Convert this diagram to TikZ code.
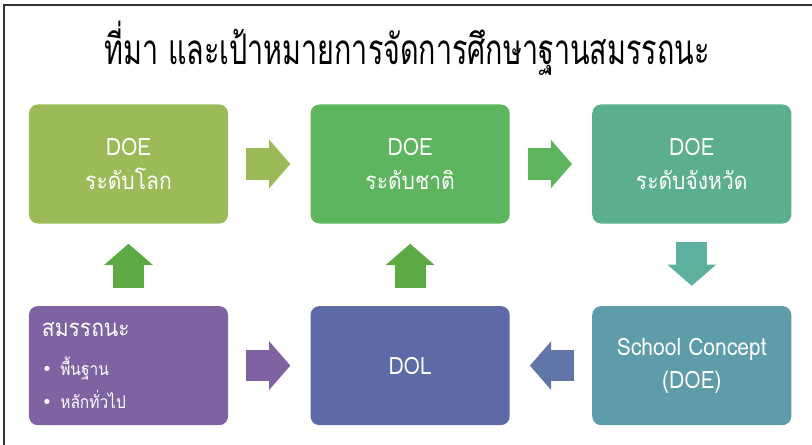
\documentclass[tikz,border=0pt]{standalone}
\usepackage{fontspec}
\setmainfont[Script=Thai, FakeStretch=0.88]{Loma}
\newfontfamily\titlefont[Script=Thai, FakeStretch=0.68]{Loma}
\newfontfamily\symfont{DejaVu Sans}
\usepackage{tikz}
\usetikzlibrary{positioning, arrows.meta, calc}

\definecolor{worldgreen}{HTML}{9BBB59}
\definecolor{nationgreen}{HTML}{5DB55F}
\definecolor{provgreen}{HTML}{5BAF8C}
\definecolor{schoolteal}{HTML}{5F9CAA}
\definecolor{dolblue}{HTML}{5E6AA6}
\definecolor{compurple}{HTML}{7E62A1}
\definecolor{upgreen}{HTML}{5DAA45}
\definecolor{downteal}{HTML}{5BB09E}
\definecolor{leftblue}{HTML}{6175A9}
\definecolor{framegray}{HTML}{333333}

\begin{document}
\begin{tikzpicture}[
        x=0.025cm, y=-0.025cm,
        level/.style={fill=#1, rectangle, rounded corners=0.22cm, minimum width=4.975cm, minimum height=2.975cm, align=center, inner sep=0pt, text=white, font=\fontsize{17}{23.5}\selectfont},
        blockarrow/.style={draw=#1, line width=0.775cm, -{Triangle[length=0.53cm, width=1.22cm, line width=0pt]}, shorten <=0.45cm, shorten >=0.5cm},
        node distance=2.05cm
      ]
      \useasboundingbox (0,0) rectangle (812,445);

      % frame
      \draw[framegray, line width=0.045cm] (4,445) -- (4,5) -- (812,5);

      % title
      \node[font=\titlefont\fontsize{30}{36}\selectfont] (title) at (407,48) {ที่มา และเป้าหมายการจัดการศึกษาฐานสมรรถนะ};

      % top row
      \node[level=worldgreen] (worldlvl) at (128.5,164) {DOE\\ระดับโลก};
      \node[level=nationgreen, right=of worldlvl] (nationlvl) {DOE\\ระดับชาติ};
      \node[level=provgreen, right=of nationlvl] (provlvl) {DOE\\ระดับจังหวัด};

      % bottom row
      \node[level=compurple, below=of worldlvl, align=left, text width=4.325cm] (competency) {\lineskiplimit=-20pt สมรรถนะ\par\vspace{8pt}\fontsize{12.5}{20}\selectfont{\symfont •}\ พื้นฐาน\par{\symfont •}\ หลักทั่วไป};
      \node[level=dolblue, below=of nationlvl] (dol) {DOL};
      \node[level=schoolteal, below=of provlvl] (schoolcon) {School Concept\\(DOE)};

      % edges
      \draw[blockarrow=worldgreen] (worldlvl) -- (nationlvl);
      \draw[blockarrow=nationgreen] (nationlvl) -- (provlvl);
      \draw[blockarrow=downteal] (provlvl) -- (schoolcon);
      \draw[blockarrow=leftblue] (schoolcon) -- (dol);
      \draw[blockarrow=compurple] (competency) -- (dol);
      \draw[blockarrow=upgreen] (competency) -- (worldlvl);
      \draw[blockarrow=upgreen] (dol) -- (nationlvl);

      \end{tikzpicture}
\end{document}
